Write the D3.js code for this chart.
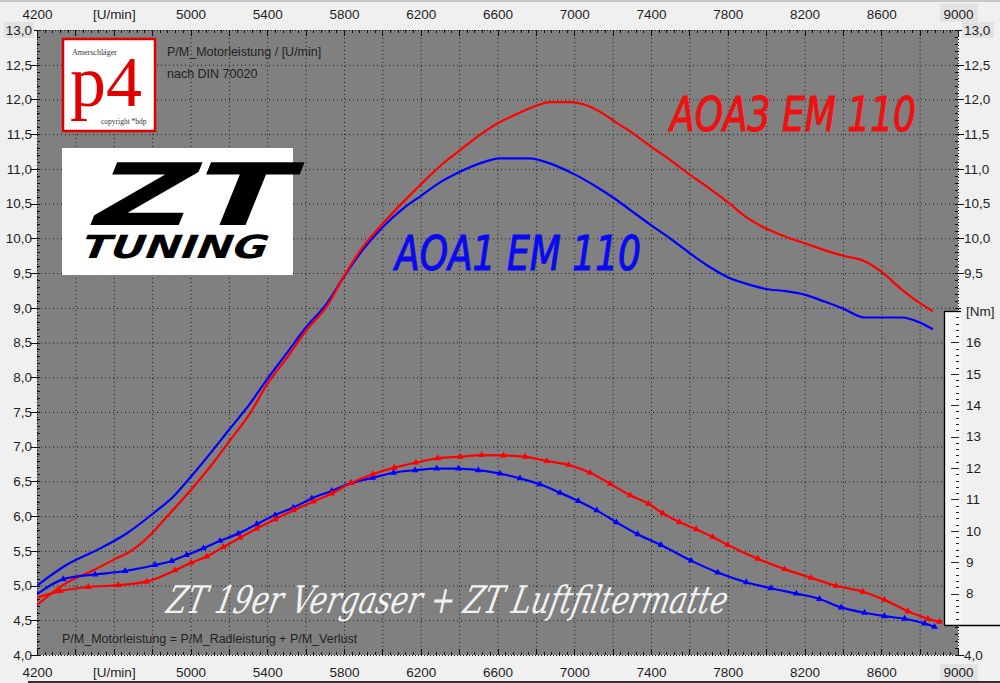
<!DOCTYPE html>
<html><head><meta charset="utf-8">
<script src="https://cdn.jsdelivr.net/npm/d3@7"></script>
<style>
body{margin:0;background:#f0f0f0;overflow:hidden;}
svg{display:block;font-family:"Liberation Sans",Arial,sans-serif;}
</style></head><body>
<svg id="c" width="1000" height="683"></svg>
<script>
// ---------- data ----------
const rpmTicks = [4200,4600,5000,5400,5800,6200,6600,7000,7400,7800,8200,8600,9000];
const rpmTickLabels = ["4200","[U/min]","5000","5400","5800","6200","6600","7000","7400","7800","8200","8600","9000"];
const kwTicks = [4.0,4.5,5.0,5.5,6.0,6.5,7.0,7.5,8.0,8.5,9.0,9.5,10.0,10.5,11.0,11.5,12.0,12.5,13.0];
const nmTicks = [8,9,10,11,12,13,14,15,16,17];
const nmTickLabels = ["8","9","10","11","12","13","14","15","16","[Nm]"];

// power [kW] vs rpm
const powerAOA1 = [[4200,5.0],[4355,5.30],[4511,5.51],[4667,5.75],[4815,6.06],[4910,6.28],[5003,6.57],[5102,6.9],[5200,7.24],[5310,7.62],[5402,7.98],[5500,8.34],[5605,8.73],[5710,9.06],[5805,9.47],[5900,9.84],[6005,10.17],[6100,10.41],[6205,10.62],[6309,10.82],[6405,10.96],[6509,11.08],[6613,11.15],[6769,11.15],[6813,11.13],[6909,11.04],[7010,10.91],[7117,10.74],[7212,10.57],[7291,10.41],[7400,10.19],[7504,9.99],[7600,9.79],[7704,9.59],[7800,9.44],[7904,9.34],[8000,9.27],[8104,9.24],[8200,9.19],[8304,9.09],[8400,8.99],[8513,8.86],[8600,8.86],[8704,8.86],[8800,8.79],[8869,8.69]];
const powerAOA3 = [[4200,4.72],[4337,5.01],[4493,5.22],[4598,5.37],[4685,5.49],[4798,5.75],[4876,5.99],[5003,6.38],[5102,6.71],[5200,7.07],[5310,7.48],[5402,7.91],[5500,8.27],[5605,8.68],[5710,9.02],[5805,9.48],[5900,9.88],[6005,10.22],[6100,10.5],[6205,10.79],[6309,11.06],[6405,11.27],[6509,11.49],[6604,11.66],[6709,11.8],[6813,11.92],[6874,11.96],[6978,11.96],[7047,11.93],[7117,11.85],[7212,11.68],[7291,11.54],[7400,11.32],[7504,11.12],[7600,10.92],[7704,10.72],[7800,10.52],[7904,10.29],[8000,10.14],[8104,10.02],[8200,9.93],[8304,9.83],[8400,9.75],[8513,9.67],[8600,9.52],[8704,9.27],[8800,9.07],[8869,8.95]];
// torque [Nm] vs rpm
const torqueAOA1 = [[4200,7.98],[4337,8.46],[4502,8.61],[4659,8.72],[4815,8.91],[4902,9.04],[4980,9.23],[5067,9.44],[5154,9.68],[5249,9.91],[5345,10.21],[5441,10.5],[5536,10.74],[5632,11.03],[5736,11.27],[5837,11.52],[5950,11.69],[6058,11.85],[6170,11.93],[6283,11.98],[6396,11.98],[6500,11.93],[6613,11.82],[6717,11.67],[6821,11.48],[6926,11.21],[7021,10.95],[7117,10.65],[7220,10.27],[7330,9.89],[7452,9.55],[7609,9.05],[7748,8.67],[7896,8.36],[8026,8.17],[8157,8.0],[8278,7.83],[8391,7.56],[8513,7.39],[8617,7.28],[8722,7.2],[8826,7.05],[8878,6.94]];
const torqueAOA3 = [[4200,7.87],[4320,8.08],[4467,8.21],[4623,8.27],[4771,8.38],[4919,8.74],[5003,8.98],[5084,9.18],[5171,9.48],[5258,9.78],[5345,10.07],[5441,10.37],[5536,10.65],[5640,10.93],[5736,11.19],[5837,11.52],[5950,11.8],[6062,12.01],[6175,12.17],[6288,12.31],[6405,12.36],[6518,12.41],[6631,12.4],[6744,12.36],[6857,12.22],[6970,12.1],[7083,11.85],[7187,11.5],[7291,11.13],[7387,10.86],[7461,10.56],[7548,10.28],[7635,10.05],[7722,9.8],[7800,9.55],[7957,9.11],[8096,8.78],[8235,8.5],[8365,8.25],[8504,8.06],[8617,7.8],[8739,7.44],[8843,7.2],[8904,7.1]];

const seriesPower = [{name:"AOA1 EM 110",data:powerAOA1,color:"#0000ff"},{name:"AOA3 EM 110",data:powerAOA3,color:"#ff0000"}];
const seriesTorque = [{data:torqueAOA1,color:"#0000ff"},{data:torqueAOA3,color:"#ff0000"}];

// ---------- layout ----------
const svg = d3.select("#c");
const X0=37, X1=958, Y0=30, Y1=655;
const x = d3.scaleLinear().domain([4200,9000]).range([X0,X1]);
const yKw = d3.scaleLinear().domain([4,13]).range([Y1,Y0]);
const yNm = d3.scaleLinear().domain([7,17]).range([625,311]);
const fmtKw = d => d.toFixed(1).replace(".",",");
const gridCol = "#1a1a1a";

// plot background
svg.append("rect").attr("x",X0).attr("y",Y0).attr("width",X1-X0).attr("height",Y1-Y0).attr("fill","#808080");

// grid
const g = svg.append("g");
g.selectAll("line.v").data(d3.range(4400,9000,200)).join("line")
  .attr("x1",d=>x(d)+0.5).attr("x2",d=>x(d)+0.5).attr("y1",Y0).attr("y2",Y1)
  .attr("stroke",gridCol).attr("stroke-width",1).attr("stroke-dasharray","1,3");
g.selectAll("line.h").data(d3.range(4.5,13,0.5)).join("line")
  .attr("y1",d=>yKw(d)+0.5).attr("y2",d=>yKw(d)+0.5).attr("x1",X0).attr("x2",X1)
  .attr("stroke",gridCol).attr("stroke-width",1).attr("stroke-dasharray","1,3");

// edge rulers
const edge = svg.append("g").attr("stroke","#111").attr("stroke-width",1);
[Y0,Y1].forEach(yy=>{
  edge.append("line").attr("x1",X0).attr("x2",X1).attr("y1",yy+0.5).attr("y2",yy+0.5).attr("stroke-dasharray","1,2");
});
[X0,X1].forEach(xx=>{
  edge.append("line").attr("y1",Y0).attr("y2",Y1).attr("x1",xx+0.5).attr("x2",xx+0.5).attr("stroke-dasharray","1,2");
});
const minorR = d3.range(4200,9001,40);
edge.selectAll("line.tt").data(minorR).join("line")
  .attr("x1",d=>Math.round(x(d))+0.5).attr("x2",d=>Math.round(x(d))+0.5)
  .attr("y1",Y0).attr("y2",d=>Y0+((d-4200)%200===0?6:3));
edge.selectAll("line.tb").data(minorR).join("line")
  .attr("x1",d=>Math.round(x(d))+0.5).attr("x2",d=>Math.round(x(d))+0.5)
  .attr("y1",Y1).attr("y2",d=>Y1-((d-4200)%200===0?6:3));
const minorK = d3.range(40,131,1).map(d=>d/10);
edge.selectAll("line.tl").data(minorK).join("line")
  .attr("y1",d=>Math.round(yKw(d))+0.5).attr("y2",d=>Math.round(yKw(d))+0.5)
  .attr("x1",d=>(Math.round(d*10)%5===0)?X0-7:X0).attr("x2",X0+3);
edge.selectAll("line.tr").data(minorK).join("line")
  .attr("y1",d=>Math.round(yKw(d))+0.5).attr("y2",d=>Math.round(yKw(d))+0.5)
  .attr("x1",X1-3).attr("x2",d=>(Math.round(d*10)%5===0)?X1+6:X1);

// label highlight boxes
svg.append("rect").attr("x",4).attr("y",22).attr("width",30).attr("height",16).attr("fill","#e2e2e2");
svg.append("rect").attr("x",962).attr("y",22).attr("width",32).attr("height",16).attr("fill","#e2e2e2");
svg.append("rect").attr("x",940).attr("y",4).attr("width",38).attr("height",18).attr("fill","#e2e2e2");
svg.append("rect").attr("x",940).attr("y",664).attr("width",38).attr("height",18).attr("fill","#e2e2e2");

// axes labels via d3 axes
const axTxt = s => s.selectAll("text").attr("font-size","13.5px").attr("fill","#1e1e1e").attr("font-family","'Liberation Sans',Arial,sans-serif");
const topAx = d3.axisTop(x).tickValues(rpmTicks).tickFormat((d,i)=>rpmTickLabels[i]).tickSize(0).tickPadding(0);
svg.append("g").attr("transform","translate(0,19)").call(topAx).call(s=>s.select(".domain").remove()).call(axTxt);
const botAx = d3.axisBottom(x).tickValues(rpmTicks).tickFormat((d,i)=>rpmTickLabels[i]).tickSize(0).tickPadding(0);
svg.append("g").attr("transform","translate(0,667)").call(botAx).call(s=>s.select(".domain").remove()).call(axTxt);
const leftAx = d3.axisLeft(yKw).tickValues(kwTicks).tickFormat(fmtKw).tickSize(0).tickPadding(0);
svg.append("g").attr("transform","translate(32,0)").call(leftAx).call(s=>s.select(".domain").remove()).call(axTxt);
// right kW labels: the part behind the Nm box is hidden in the original
const rightAx = d3.axisRight(yKw).tickValues(kwTicks.filter(v=>v>9.2||v<4.2)).tickFormat(fmtKw).tickSize(0).tickPadding(0);
svg.append("g").attr("transform","translate(964,0)").call(rightAx).call(s=>s.select(".domain").remove()).call(axTxt);

// p4 logo
const p4 = svg.append("g");
p4.append("rect").attr("x",63).attr("y",39).attr("width",92).attr("height",92).attr("fill","#fff").attr("stroke","#e00000").attr("stroke-width",2.5);
p4.append("text").attr("x",72).attr("y",55).attr("font-family","'Liberation Serif',serif").attr("font-size","8px").attr("fill","#333").text("Amerschläger");
p4.append("text").attr("x",70).attr("y",106).attr("font-family","'Liberation Serif',serif").attr("font-size","72px").attr("fill","#e00000").text("p4");
p4.append("text").attr("x",101).attr("y",124).attr("font-family","'Liberation Serif',serif").attr("font-size","7.5px").attr("fill","#333").text("copyright *bdp");

// info text
svg.append("text").attr("x",167).attr("y",56).attr("font-size","12.5px").attr("fill","#222").text("P/M_Motorleistung / [U/min]");
svg.append("text").attr("x",167).attr("y",78).attr("font-size","12.5px").attr("fill","#222").text("nach DIN 70020");

// ZT tuning logo
const zt = svg.append("g");
zt.append("rect").attr("x",62).attr("y",148).attr("width",231).attr("height",127).attr("fill","#fff");
zt.append("text").attr("x",0).attr("y",0).attr("transform","translate(84,225) skewX(-22)")
  .attr("font-family","'DejaVu Sans',sans-serif").attr("font-weight","bold").attr("font-size","86px")
  .attr("textLength",196).attr("lengthAdjust","spacingAndGlyphs").attr("fill","#000").text("ZT");
zt.append("text").attr("x",0).attr("y",0).attr("transform","translate(78,258) skewX(-22)")
  .attr("font-family","'DejaVu Sans',sans-serif").attr("font-weight","bold").attr("font-size","32px")
  .attr("textLength",186).attr("lengthAdjust","spacingAndGlyphs").attr("fill","#000").text("TUNING");

// bottom formula text
svg.append("text").attr("x",62).attr("y",643).attr("font-size","12.5px").attr("fill","#222").text("P/M_Motorleistung = P/M_Radleistung + P/M_Verlust");

// curves
const clip = svg.append("clipPath").attr("id","clipP");
clip.append("rect").attr("x",X0).attr("y",Y0).attr("width",X1-X0).attr("height",Y1-Y0);
const curves = svg.append("g").attr("clip-path","url(#clipP)");
const linePow = d3.line().x(d=>x(d[0])).y(d=>yKw(d[1])).curve(d3.curveMonotoneX);
const lineNm = d3.line().x(d=>x(d[0])).y(d=>yNm(d[1])).curve(d3.curveMonotoneX);
seriesPower.forEach(s=>{
  curves.append("path").attr("d",linePow(s.data)).attr("fill","none").attr("stroke",s.color).attr("stroke-width",2.2);
});
const sym = d3.symbol().type(d3.symbolTriangle).size(20);
seriesTorque.forEach(s=>{
  curves.append("path").attr("d",lineNm(s.data)).attr("fill","none").attr("stroke",s.color).attr("stroke-width",2.2);
  curves.selectAll(null).data(s.data.slice(1)).join("path").attr("d",sym)
    .attr("transform",d=>`translate(${x(d[0])},${yNm(d[1])})`).attr("fill",s.color);
});

// Nm axis box (covers the right edge of the plot and the kW labels behind it)
const nm = svg.append("g");
nm.append("rect").attr("x",961).attr("y",298).attr("width",39).attr("height",yNm(7)-298).attr("fill","#f0f0f0");
nm.append("rect").attr("x",944).attr("y",yNm(17)).attr("width",17).attr("height",yNm(7)-yNm(17)).attr("fill","#f7f7f7");
nm.append("line").attr("x1",944.5).attr("x2",944.5).attr("y1",yNm(17)).attr("y2",yNm(7)).attr("stroke","#000").attr("stroke-width",1.3);
nm.append("line").attr("x1",944).attr("x2",961).attr("y1",yNm(17)+0.5).attr("y2",yNm(17)+0.5).attr("stroke","#000").attr("stroke-width",1.3);
nm.append("line").attr("x1",944).attr("x2",1000).attr("y1",yNm(7)+0.5).attr("y2",yNm(7)+0.5).attr("stroke","#000").attr("stroke-width",1.3);
nm.selectAll("line.nt").data(d3.range(71,170,1).map(d=>d/10).filter(d=>Math.round(d*10)%2===0)).join("line")
  .attr("x1",d=>Math.round(d*10)%10===0?951:956).attr("x2",959)
  .attr("y1",d=>Math.round(yNm(d))+0.5).attr("y2",d=>Math.round(yNm(d))+0.5)
  .attr("stroke","#222").attr("stroke-width",1);
const nmAx = d3.axisRight(yNm).tickValues(nmTicks).tickFormat((d,i)=>nmTickLabels[i]).tickSize(0).tickPadding(0);
svg.append("g").attr("transform","translate(966,0)").call(nmAx).call(s=>s.select(".domain").remove()).call(axTxt);

// series labels
const lblStyle = s => s.attr("font-family","'DejaVu Sans Condensed','DejaVu Sans',sans-serif").attr("font-style","italic")
  .attr("font-size","48px").attr("stroke-width",1.1).attr("textLength",246).attr("lengthAdjust","spacingAndGlyphs");
svg.append("text").attr("x",0).attr("y",0).attr("transform","translate(670,131)").call(lblStyle)
  .attr("fill","#ee1111").attr("stroke","#ee1111").text(seriesPower[1].name);
svg.append("text").attr("x",0).attr("y",0).attr("transform","translate(395,270)").call(lblStyle)
  .attr("fill","#0a0af0").attr("stroke","#0a0af0").text(seriesPower[0].name);

// script caption
svg.append("text").attr("x",0).attr("y",0).attr("transform","translate(165,613) skewX(-12)")
  .attr("font-family","'DejaVu Serif',serif").attr("font-style","italic").attr("font-size","38px")
  .attr("textLength",560).attr("lengthAdjust","spacingAndGlyphs").attr("fill","#f2f2f2").text("ZT 19er Vergaser + ZT Luftfiltermatte");

// window edges
svg.append("rect").attr("x",28).attr("y",681).attr("width",972).attr("height",2).attr("fill","#333");
svg.append("rect").attr("x",0).attr("y",0).attr("width",1000).attr("height",2).attr("fill","#c8c8c8");
</script>
</body></html>
